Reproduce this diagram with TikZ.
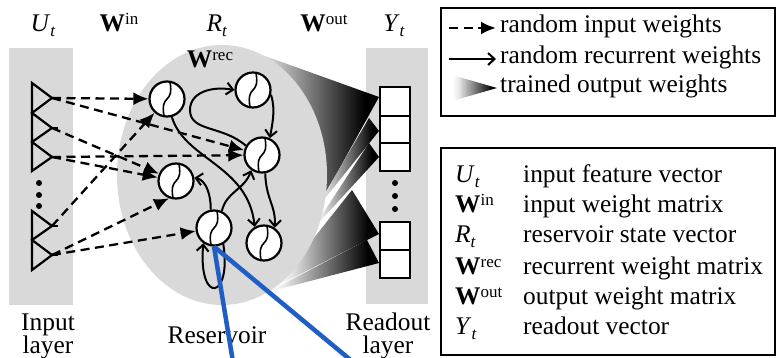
\documentclass[tikz,border=0pt]{standalone}
\usepackage{fontspec}
\setmainfont{Liberation Serif}
\usetikzlibrary{arrows.meta}
\pgfdeclarehorizontalshading{fanshade}{100bp}{color(0bp)=(white); color(25bp)=(white); color(32bp)=(white!92!black); color(70bp)=(black); color(100bp)=(black)}
\definecolor{panelgray}{RGB}{217,217,217}
\definecolor{lineblue}{RGB}{31,94,196}
\newcommand\symsub[2]{\textit{#1}\raisebox{-5pt}{\fontsize{17}{17}\selectfont\textit{#2}}}
\newcommand\symsup[1]{\textbf{W}\raisebox{7pt}{\fontsize{17}{17}\selectfont #1}}
\begin{document}
\begin{tikzpicture}[x=1pt,y=-1pt,
  font=\fontsize{25.4}{28}\selectfont,
  panel/.style={fill=panelgray, draw=none},
  fan/.style={shading=fanshade, draw=none},
  neuron/.style={circle, draw, line width=2.2pt, fill=white, minimum size=35pt, inner sep=0pt,
    path picture={\draw[line width=1.6pt] ([xshift=-3pt,yshift=-17pt]path picture bounding box.center) .. controls +(-4pt,23pt) and +(4pt,-23pt) .. ([xshift=3pt,yshift=17pt]path picture bounding box.center);}},
  inarrow/.style={line width=2.3pt, dash pattern=on 9pt off 5.5pt, -{Latex[length=15pt,width=13pt]}},
  recarrow/.style={line width=2pt, -{Straight Barb[length=6.5pt,width=12pt]}},
  txt/.style={inner sep=0pt, anchor=base},
  ltxt/.style={inner sep=0pt, anchor=base west},
  outbox/.style={draw, line width=2.2pt, fill=white},
  legendbox/.style={draw, line width=2pt},
  dot/.style={fill, circle, inner sep=0pt, minimum size=6pt},
  blueline/.style={draw=lineblue, line width=4.5pt}
]
\useasboundingbox (0,0) rectangle (779,358);

% panels
\fill[panel] (9,48) rectangle (73,305);
\fill[panel] (366,48) rectangle (428,304);

% trained output fans (behind reservoir)
\shade[fan] (240,47) -- (379,97) -- (322,200) -- cycle;
\shade[fan] (352,190) -- (379,234) -- (275,287) -- cycle;
\shade[fan] (367,240) -- (379,263) -- (268,292) -- cycle;
\shade[fan] (369,118) -- (379,131) -- (314,212) -- cycle;
\shade[fan] (369,143) -- (379,157) -- (312,230) -- cycle;

% reservoir
\fill[panelgray] (222,175) ellipse [x radius=105pt, y radius=130pt];

% readout boxes
\draw[outbox] (380,87) rectangle (410,116);
\draw[outbox] (380,116) rectangle (410,143);
\draw[outbox] (380,143) rectangle (410,171);
\draw[outbox] (380,222) rectangle (410,250);
\draw[outbox] (380,250) rectangle (410,278);
\node[dot] (rd1) at (395,183) {};
\node[dot] (rd2) at (395,196) {};
\node[dot] (rd3) at (395,209) {};

% input triangles
\coordinate (t1) at (52,98);
\coordinate (t2) at (52,128);
\coordinate (t3) at (52,157);
\coordinate (t4) at (52,226);
\coordinate (t5) at (52,255);
\draw[line width=2.2pt, line join=miter] (32,83) -- (t1) -- (32,113) -- (t2) -- (32,142) -- (t3) -- (32,171) -- cycle;
\draw[line width=2.2pt, line join=miter] (32,211) -- (t4) -- (32,240) -- (t5) -- (32,270) -- cycle;
\foreach \t in {t1,t2,t3,t4,t5} \draw[line width=2.2pt] (\t) -- ++(6,0);
\node[dot] (id1) at (39,183) {};
\node[dot] (id2) at (39,195) {};
\node[dot] (id3) at (39,206) {};

% neurons
\node[neuron] (n1) at (167,99) {};
\node[neuron] (n2) at (253,90) {};
\node[neuron] (n3) at (262,155) {};
\node[neuron] (n4) at (176,181) {};
\node[neuron] (n5) at (214,228) {};
\node[neuron] (n6) at (264,243) {};

% random input weights
\draw[inarrow] (t1) -- (n1);
\draw[inarrow] (t1) -- (n3);
\draw[inarrow] (t2) -- (n4);
\draw[inarrow] (t3) -- (n3);
\draw[inarrow] (t3) -- (n4);
\draw[inarrow] (t4) -- (n1);
\draw[inarrow] (t5) -- (n4.248);
\draw[inarrow] (t5) -- (n5);

% random recurrent weights
\draw[recarrow] (n3.150) .. controls (222,125) and (190,132) .. (190,110) .. controls (190,92) and (212,86) .. (n2.180);
\draw[recarrow] (n2.-15) .. controls (276,110) and (272,125) .. (n3.65);
\draw[recarrow] (n1.-75) .. controls (185,160) and (248,165) .. (n6.120);
\draw[recarrow] (n3.-80) .. controls (266,200) and (276,205) .. (n6.55);
\draw[recarrow] (n5.100) .. controls (211,195) and (206,180) .. (n4.10);
\draw[recarrow] (n5.65) .. controls (226,192) and (244,190) .. (n3.235);
\draw[recarrow] (n5.-60) .. controls (232,300) and (198,305) .. (n5.235);

% labels
\node[txt] (lu) at (43,32) {\symsub{U}{t}};
\node[txt] (lwin) at (119,32) {\symsup{in}};
\node[txt] (lr) at (217,32) {\symsub{R}{t}};
\node[txt] (lwout) at (324,32) {\symsup{out}};
\node[txt] (ly) at (394,32) {\symsub{Y}{t}};
\node[txt] (lwrec) at (210,68) {\symsup{rec}};
\node[txt] (lin1) at (48,330) {Input};
\node[txt] (lin2) at (48,353) {layer};
\node[txt] (lres) at (217,343) {Reservoir};
\node[txt] (lro1) at (388,330) {Readout};
\node[txt] (lro2) at (388,353) {layer};

% legend 1
\draw[legendbox] (441,8) rectangle (775,116);
\coordinate (la1) at (449,28); \coordinate (lb1) at (496,28);
\coordinate (la2) at (449,59); \coordinate (lb2) at (496,59);
\draw[inarrow] (la1) -- (lb1);
\draw[recarrow] (la2) -- (lb2);
\shade[fan] (452,75) -- (497,88) -- (452,101) -- cycle;
\node[ltxt] (lg1) at (500,33) {random input weights};
\node[ltxt] (lg2) at (500,64) {random recurrent weights};
\node[ltxt] (lg3) at (500,93) {trained output weights};

% legend 2
\draw[legendbox] (441,148) rectangle (775,355);
\node[ltxt] (s1) at (455,183) {\symsub{U}{t}};
\node[ltxt] (s2) at (455,213) {\symsup{in}};
\node[ltxt] (s3) at (455,243) {\symsub{R}{t}};
\node[ltxt] (s4) at (455,274) {\symsup{rec}};
\node[ltxt] (s5) at (455,304) {\symsup{out}};
\node[ltxt] (s6) at (455,334) {\symsub{Y}{t}};
\node[ltxt] (d1) at (523,183) {input feature vector};
\node[ltxt] (d2) at (523,213) {input weight matrix};
\node[ltxt] (d3) at (523,243) {reservoir state vector};
\node[ltxt] (d4) at (523,274) {recurrent weight matrix};
\node[ltxt] (d5) at (523,304) {output weight matrix};
\node[ltxt] (d6) at (523,334) {readout vector};

% blue lines
\coordinate (b1) at (233,362);
\coordinate (b2) at (353,362);
\draw[blueline] (n5.south) -- (b1);
\draw[blueline] (n5.south) -- (b2);
\end{tikzpicture}
\end{document}
